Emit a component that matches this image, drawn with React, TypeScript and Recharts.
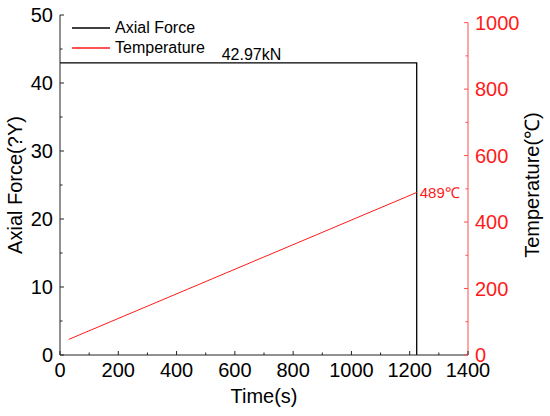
import React from 'react'
import {
  LineChart,
  Line,
  XAxis,
  YAxis,
  ReferenceDot,
  ReferenceLine,
} from 'recharts'

// time (s) / value pairs
const forceTimes = [0, 1224, 1224]
const forceValues = [42.97, 42.97, 0]
const tempTimes = [30, 1224]
const tempValues = [47, 489]

const timeTicks = [0, 100, 200, 300, 400, 500, 600, 700, 800, 900, 1000, 1100, 1200, 1300, 1400]
const forceTicks = [0, 5, 10, 15, 20, 25, 30, 35, 40, 45, 50]
const tempTicks = [0, 100, 200, 300, 400, 500, 600, 700, 800, 900, 1000]

const forceLabelTime = 657
const forceLabel = '42.97kN'
const tempLabel = '489℃'

const forceData = forceTimes.map((t, i) => ({ time: t, force: forceValues[i] }))
const tempData = tempTimes.map((t, i) => ({ time: t, temp: tempValues[i] }))

const FONT = "Arial, 'Liberation Sans', sans-serif"
const RED = '#ff1a1a'
const RED_AXIS = '#ff4d4d'
const AXIS = '#222'

const legendItems = [
  { name: 'Axial Force', color: '#000' },
  { name: 'Temperature', color: RED },
]

function TimeTick({ x, y, payload }: any) {
  const major = payload.value % 200 === 0
  return (
    <g>
      <line x1={x} x2={x} y1={y} y2={y - (major ? 4 : 2.5)} stroke={AXIS} />
      {major && (
        <text x={x} y={y + 22} textAnchor="middle" fontSize={20} fontFamily={FONT} fill="#000">
          {payload.value}
        </text>
      )}
    </g>
  )
}

function ForceTick({ x, y, payload }: any) {
  const major = payload.value % 10 === 0
  return (
    <g>
      <line x1={x} x2={x + (major ? 4 : 2.5)} y1={y} y2={y} stroke={AXIS} />
      {major && (
        <text x={x - 7} y={y} dy="0.36em" textAnchor="end" fontSize={20} fontFamily={FONT} fill="#000">
          {payload.value}
        </text>
      )}
    </g>
  )
}

function TempTick({ x, y, payload }: any) {
  const major = payload.value % 200 === 0
  return (
    <g>
      <line x1={x} x2={x - (major ? 4 : 2.5)} y1={y} y2={y} stroke={RED_AXIS} />
      {major && (
        <text x={x + 7} y={y} dy="0.36em" textAnchor="start" fontSize={20} fontFamily={FONT} fill={RED}>
          {payload.value}
        </text>
      )}
    </g>
  )
}

function TempEndLabel({ x, y, index }: any) {
  if (index !== tempData.length - 1) return null
  return (
    <text x={x + 3} y={y} dy="0.36em" fontSize={15} fontFamily={FONT} fill={RED}>
      {tempLabel}
    </text>
  )
}

export default function App() {
  return (
    <div style={{ position: 'absolute', left: 0, top: 0, width: 550, height: 416, background: '#fff' }}>
      <LineChart width={550} height={416} margin={{ top: 15, right: 0, left: 0, bottom: 0 }}>
        <XAxis
          type="number"
          dataKey="time"
          domain={[0, 1400]}
          ticks={timeTicks}
          interval={0}
          height={61}
          tickSize={0}
          tickMargin={0}
          tickLine={false}
          tick={<TimeTick />}
          axisLine={{ stroke: AXIS }}
          label={({ viewBox }: any) => (
            <text
              x={viewBox.x + viewBox.width / 2}
              y={viewBox.y + 48}
              textAnchor="middle"
              fontSize={20}
              fontFamily={FONT}
              fill="#000"
            >
              Time(s)
            </text>
          )}
        />
        <YAxis
          yAxisId="left"
          type="number"
          domain={[0, 50]}
          ticks={forceTicks}
          interval={0}
          width={60}
          tickSize={0}
          tickMargin={0}
          tickLine={false}
          tick={<ForceTick />}
          axisLine={{ stroke: AXIS }}
          label={({ viewBox }: any) => {
            const cx = viewBox.x + 15
            const cy = viewBox.y + viewBox.height / 2
            return (
              <text
                x={cx}
                y={cy}
                dy="0.36em"
                textAnchor="middle"
                transform={`rotate(-90 ${cx} ${cy})`}
                fontSize={20}
                fontFamily={FONT}
                fill="#000"
              >
                Axial Force(?Y)
              </text>
            )
          }}
        />
        <YAxis
          yAxisId="right"
          orientation="right"
          type="number"
          domain={[0, 1023]}
          ticks={tempTicks}
          interval={0}
          width={82}
          tickSize={0}
          tickMargin={0}
          tickLine={false}
          tick={<TempTick />}
          axisLine={false}
          label={({ viewBox }: any) => {
            const cx = viewBox.x + 64
            const cy = viewBox.y + viewBox.height / 2
            return (
              <text
                x={cx}
                y={cy}
                dy="0.36em"
                textAnchor="middle"
                transform={`rotate(-90 ${cx} ${cy})`}
                fontSize={20}
                fontFamily={FONT}
                fill="#000"
              >
                Temperature(℃)
              </text>
            )
          }}
        />
        <ReferenceLine
          yAxisId="right"
          segment={[
            { x: 1400, y: 0 },
            { x: 1400, y: 1000 },
          ]}
          stroke={RED_AXIS}
          strokeWidth={1}
        />
        <Line
          yAxisId="left"
          data={forceData}
          dataKey="force"
          type="linear"
          stroke="#000"
          strokeWidth={1.3}
          dot={false}
          isAnimationActive={false}
        />
        <Line
          yAxisId="right"
          data={tempData}
          dataKey="temp"
          type="linear"
          stroke={RED}
          strokeWidth={1}
          dot={false}
          label={<TempEndLabel />}
          isAnimationActive={false}
        />
        <ReferenceDot
          yAxisId="left"
          x={forceLabelTime}
          y={forceValues[0]}
          r={0}
          stroke="none"
          label={{ value: forceLabel, position: 'top', offset: 3, fill: '#000', fontSize: 16, fontFamily: FONT }}
        />
      </LineChart>
      <div style={{ position: 'absolute', left: 72, top: 18, fontFamily: FONT, fontSize: 16 }}>
        {legendItems.map((item) => (
          <div key={item.name} style={{ display: 'flex', alignItems: 'center', height: 20 }}>
            <svg width={38} height={4} style={{ marginRight: 5 }}>
              <line x1={0} x2={38} y1={2} y2={2} stroke={item.color} strokeWidth={1.3} />
            </svg>
            <span style={{ color: '#000' }}>{item.name}</span>
          </div>
        ))}
      </div>
    </div>
  )
}
